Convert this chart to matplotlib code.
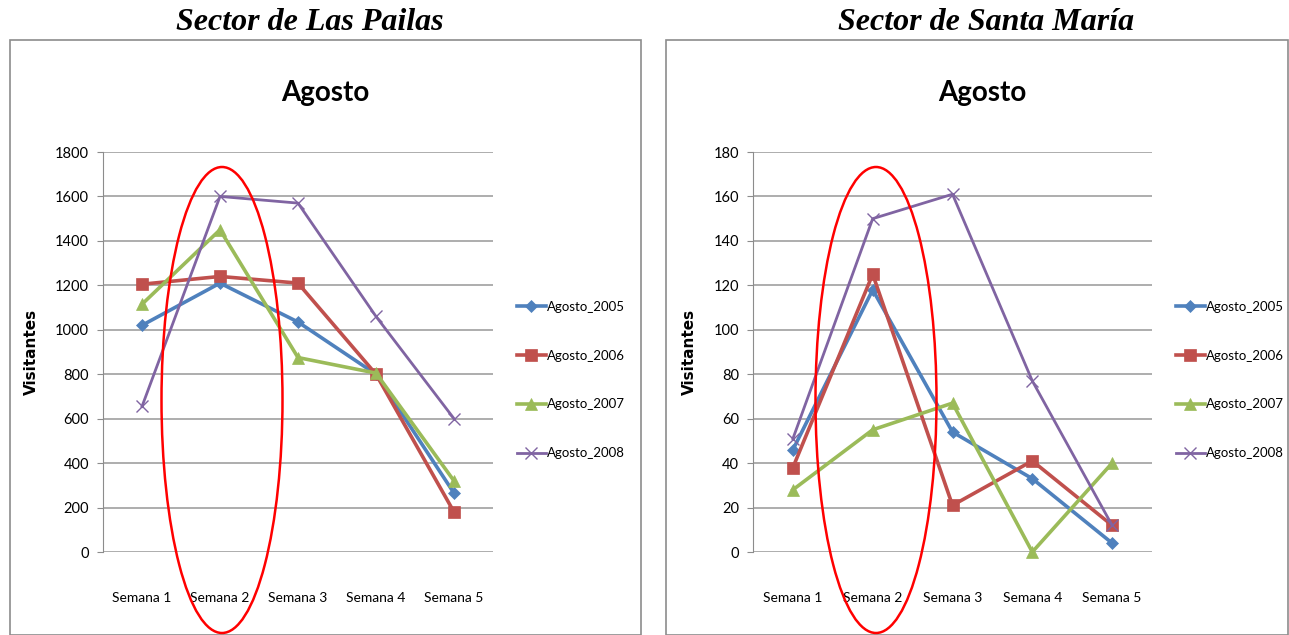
import matplotlib.pyplot as plt
from matplotlib.patches import Ellipse, Rectangle

semanas = ["Semana 1", "Semana 2", "Semana 3", "Semana 4", "Semana 5"]
series_names = ["Agosto_2005", "Agosto_2006", "Agosto_2007", "Agosto_2008"]

# Sector de Las Pailas
pailas_2005 = [1020, 1210, 1035, 800, 265]
pailas_2006 = [1205, 1240, 1210, 800, 180]
pailas_2007 = [1115, 1450, 875, 805, 320]
pailas_2008 = [655, 1600, 1570, 1060, 600]

# Sector de Santa María
maria_2005 = [46, 118, 54, 33, 4]
maria_2006 = [38, 125, 21, 41, 12]
maria_2007 = [28, 55, 67, 0, 40]
maria_2008 = [51, 150, 161, 77, 12]

colors = ["#4F81BD", "#C0504D", "#9BBB59", "#8064A2"]
markers = ["D", "s", "^", "x"]
msizes = [6, 8, 8, 9]
lws = [2.6, 2.6, 2.6, 2.0]

W, H = 1289, 635
narrow = ["Lato", "DejaVu Sans"]

fig = plt.figure(figsize=(W / 100, H / 100), dpi=100)


def px(x0, y0, x1, y1):
    # pixel box (left, top, right, bottom) -> figure fraction rect
    return [x0 / W, 1 - y1 / H, (x1 - x0) / W, (y1 - y0) / H]


def draw_panel(box, axbox, header, header_x, title_x, data, ymax, ystep, ell_x):
    # outer chart frame
    fig.add_artist(Rectangle((box[0] / W, 0), (box[1] - box[0]) / W, 1 - 40 / H,
                             transform=fig.transFigure, fill=False,
                             edgecolor="#8C8C8C", lw=1.2))
    fig.text(header_x / W, 1 - 22 / H, header, ha="center", va="center",
             family="Liberation Serif", style="italic", weight="bold", fontsize=23)
    fig.text(title_x / W, 1 - 93 / H, "Agosto", ha="center", va="center",
             family=narrow, weight="bold", fontsize=20)

    ax = fig.add_axes(px(*axbox))
    x = range(len(semanas))
    for vals, name, c, m, ms, lw in zip(data, series_names, colors, markers, msizes, lws):
        ax.plot(x, vals, color=c, marker=m, markersize=ms, lw=lw, label=name,
                markeredgewidth=1 if m == "x" else 0.5, clip_on=False, zorder=3)
    ax.set_xlim(-0.5, 4.5)
    ax.set_ylim(0, ymax)
    ax.set_yticks(range(0, ymax + 1, ystep))
    ax.set_xticks(list(x))
    ax.set_xticklabels(semanas, family=narrow, fontsize=10)
    for lab in ax.get_yticklabels():
        lab.set_family(narrow)
        lab.set_fontsize(10.5)
    ax.tick_params(axis="x", length=0, pad=29)
    ax.tick_params(axis="y", length=4, color="#8C8C8C", pad=6)
    ax.grid(axis="y", color="#A0A0A0", lw=1.2)
    ax.set_axisbelow(True)
    for s in ["top", "right", "bottom"]:
        ax.spines[s].set_visible(False)
    ax.spines["left"].set_color("#8C8C8C")
    ax.set_ylabel("Visitantes", weight="bold", fontsize=11, labelpad=12)
    ax.legend(loc="center left", bbox_to_anchor=(1.04, 0.43), frameon=False,
              prop={"family": narrow, "size": 9.5}, labelspacing=2.8,
              handlelength=2.2, handletextpad=0.1, borderaxespad=0.2)

    fig.add_artist(Ellipse((ell_x / W, 1 - 400 / H), 121 / W, 466 / H,
                           transform=fig.transFigure, fill=False,
                           edgecolor="red", lw=1.8, zorder=5))


draw_panel((10, 641), (103, 152, 493, 552), "Sector de Las Pailas", 310, 325,
           [pailas_2005, pailas_2006, pailas_2007, pailas_2008], 1800, 200, 222)
draw_panel((666, 1288), (753, 152, 1152, 552), "Sector de Santa María", 986, 982,
           [maria_2005, maria_2006, maria_2007, maria_2008], 180, 20, 876)

fig.savefig("out.png", dpi=100)
